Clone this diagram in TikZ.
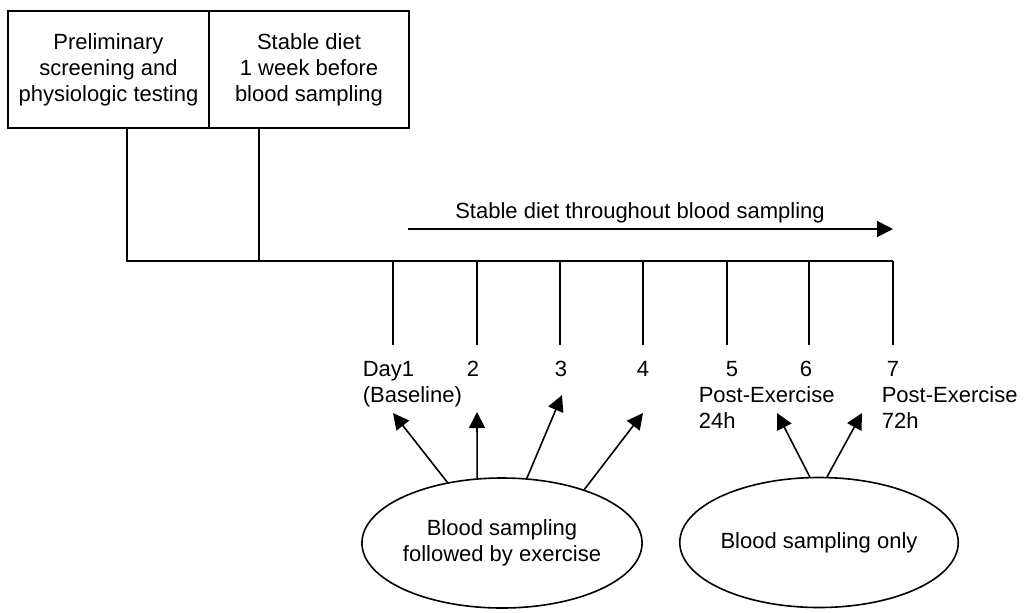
\documentclass[tikz,border=0pt]{standalone}
\usepackage{fontspec}
\setmainfont{Liberation Sans}
\usepackage{tikz}
\usetikzlibrary{shapes.geometric,arrows.meta}

\begin{document}
\begin{tikzpicture}[x=0.5pt,y=-0.5pt,
  font=\fontsize{11}{13}\selectfont,
  line width=0.8pt,
  phase/.style={draw,rectangle,minimum height=58.5pt,align=center,inner sep=0pt},
  visit/.style={draw,ellipse,minimum width=125.5pt,minimum height=65pt,align=center,inner sep=0pt},
  tip/.style={-{Triangle[length=8pt,width=8pt]}}]

\useasboundingbox (0,0) rectangle (1028,612);

% Boxes
\node[phase,minimum width=100.5pt] (screen) at (108.5,69.5) {Preliminary\\screening and\\physiologic testing};
\node[phase,minimum width=100pt] (diet) at (309,69.5) {Stable diet\\1 week before\\blood sampling};

% Time line
\coordinate (busL) at (127,260.7);
\coordinate (busM) at (259,260.7);
\coordinate (busR) at (893,260.7);
\draw (busL |- screen.south) -- (busL) -- (busR);
\draw (busM |- diet.south) -- (busM);

% Day ticks
\foreach \x [count=\i] in {393,477,560,643,727,809,893}
  \draw (\x,260.7) -- (\x,345);

% Diet arrow
\coordinate (dietA) at (408,229);
\coordinate (dietB) at (893,229);
\draw[tip] (dietA) -- (dietB);
\node[anchor=base] (dietlbl) at (640,218) {Stable diet throughout blood sampling};

% Day labels (base of a two-line node is its last line)
\node[anchor=base west,align=left,inner sep=0pt] (day1) at (362,402) {Day1\\(Baseline)};
\node[anchor=base,inner sep=0pt] (day2) at (473,376) {2};
\node[anchor=base,inner sep=0pt] (day3) at (561,376) {3};
\node[anchor=base,inner sep=0pt] (day4) at (643,376) {4};
\node[anchor=base,inner sep=0pt] (day5) at (732,376) {5};
\node[anchor=base west,align=left,inner sep=0pt] (post24) at (698,428) {Post-Exercise\\24h};
\node[anchor=base,inner sep=0pt] (day6) at (806,376) {6};
\node[anchor=base,inner sep=0pt] (day7) at (893,376) {7};
\node[anchor=base west,align=left,inner sep=0pt] (post72) at (881,428) {Post-Exercise\\72h};

% Sampling groups
\node[visit] (exer) at (502,543) {Blood sampling\\followed by exercise};
\node[visit,minimum width=126pt] (only) at (819,542.5) {Blood sampling only};

% Arrows to days
\coordinate (p1) at (393,413);
\coordinate (p2) at (477,412);
\coordinate (p3) at (562,395);
\coordinate (p4) at (643,413);
\coordinate (p5) at (777,413);
\coordinate (p6) at (862,413);
\draw[tip] (exer.132) -- (p1);
\draw[tip] (exer.111) -- (p2);
\draw[tip] (exer.69) -- (p3);
\draw[tip] (exer.33) -- (p4);
\draw[tip] (only.98) -- (p5);
\draw[tip] (only.83) -- (p6);

\end{tikzpicture}
\end{document}
